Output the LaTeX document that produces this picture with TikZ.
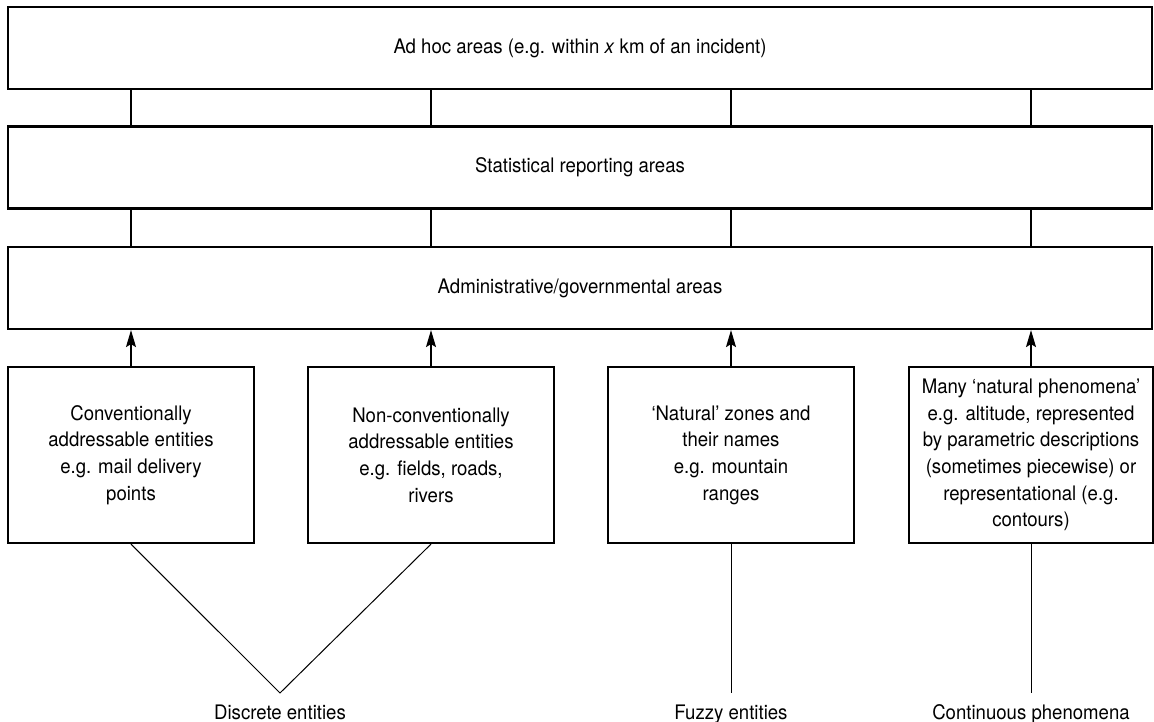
\documentclass[tikz,border=0pt]{standalone}
\usepackage{fontspec}
\setmainfont{TeX Gyre Heros}[FakeStretch=0.93]
\usetikzlibrary{arrows.meta}
\begin{document}
\begin{tikzpicture}[x=1pt,y=-1pt,
  wide/.style={draw,line width=2.2pt,rectangle,minimum width=1144pt,minimum height=82pt,inner sep=0pt,font=\fontsize{20}{26.7}\selectfont},
  small/.style={draw,line width=2.2pt,rectangle,minimum width=246pt,minimum height=176pt,inner sep=0pt,align=center,font=\fontsize{20}{26.7}\selectfont},
  lab/.style={anchor=base,inner sep=0pt,font=\fontsize{20}{26.7}\selectfont},
  link/.style={line width=1.2pt},
  diag/.style={line width=1pt},
  arr/.style={line width=1.2pt,-{Stealth[length=17pt,width=10pt,inset=3pt]}}
]
\useasboundingbox (0,0) rectangle (1154,722);
\node[wide] (adhoc) at (580,48) {Ad hoc areas (e.g. within \textit{x} km of an incident)};
\node[wide] (stat) at (580,167.5) {Statistical reporting areas};
\node[wide] (admin) at (580,288) {Administrative/governmental areas};

\node[small] (b1) at (131,455) {Conventionally\\addressable entities\\e.g. mail delivery\\points};
\node[small] (b2) at (431,455) {Non-conventionally\\addressable entities\\e.g. fields, roads,\\rivers};
\node[small] (b3) at (731,455) {`Natural' zones and\\their names\\e.g. mountain\\ranges};
\node[small,minimum width=244pt] (b4) at (1031,455) {Many `natural phenomena'\\e.g. altitude, represented\\by parametric descriptions\\(sometimes piecewise) or\\representational (e.g.\\contours)};

\foreach \b in {b1,b2,b3,b4}{
  \draw[link] (adhoc.south -| \b) -- (stat.north -| \b);
  \draw[link] (stat.south -| \b) -- (admin.north -| \b);
  \draw[arr] (\b.north) -- (admin.south -| \b);
}

\coordinate (vd) at (280,693);
\coordinate (vf) at (731,693);
\coordinate (vc) at (1031,693);
\draw[diag] (b1.south) -- (vd) -- (b2.south);
\draw[diag] (b3.south) -- (vf);
\draw[diag] (b4.south) -- (vc);

\node[lab] (ld) at (280,719) {Discrete entities};
\node[lab] (lf) at (731,719) {Fuzzy entities};
\node[lab] (lc) at (1031,719) {Continuous phenomena};
\end{tikzpicture}
\end{document}
